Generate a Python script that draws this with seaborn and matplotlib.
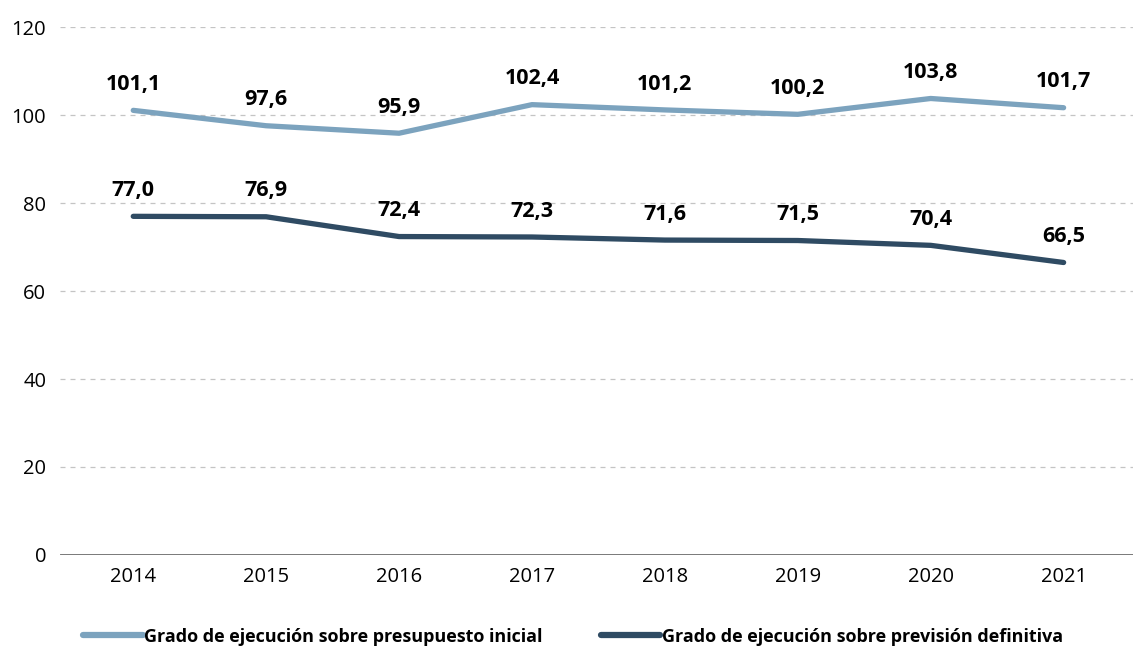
import matplotlib

matplotlib.use("Agg")
import matplotlib.pyplot as plt
import pandas as pd
import seaborn as sns

years = ["2014", "2015", "2016", "2017", "2018", "2019", "2020", "2021"]
inicial = [101.1, 97.6, 95.9, 102.4, 101.2, 100.2, 103.8, 101.7]
definitiva = [77.0, 76.9, 72.4, 72.3, 71.6, 71.5, 70.4, 66.5]
series_names = [
    "Grado de ejecución sobre presupuesto inicial",
    "Grado de ejecución sobre previsión definitiva",
]
colors = ["#7ca3be", "#2f4b63"]

df = pd.DataFrame(
    {
        "year": years * 2,
        "x": list(range(len(years))) * 2,
        "value": inicial + definitiva,
        "serie": [series_names[0]] * len(years) + [series_names[1]] * len(years),
    }
)

sns.set_style("white")
plt.rcParams["font.family"] = ["Open Sans", "DejaVu Sans"]

fig = plt.figure(figsize=(11.35, 6.49), dpi=100)
ax = fig.add_axes([0.053, 0.145, 0.945, 0.813])

sns.lineplot(
    data=df,
    x="x",
    y="value",
    hue="serie",
    palette=colors,
    linewidth=3.8,
    ax=ax,
    legend=False,
    solid_capstyle="round",
)

# data labels
for vals in (inicial, definitiva):
    for i, v in enumerate(vals):
        ax.annotate(
            f"{v:.1f}".replace(".", ","),
            (i, v),
            xytext=(0, 11),
            textcoords="offset points",
            ha="center",
            va="bottom",
            fontsize=15.5,
            fontweight="bold",
            color="black",
        )

ax.set_ylim(0, 120)
ax.set_xlim(-0.55, 7.52)
ax.set_yticks(range(0, 121, 20))
ax.set_xticks(range(len(years)))
ax.set_xticklabels(years)
ax.set_xlabel("")
ax.set_ylabel("")
ax.tick_params(axis="both", labelsize=14.5, length=0, colors="black")
ax.tick_params(axis="x", pad=9)
ax.tick_params(axis="y", pad=10)

for y in range(20, 121, 20):
    ax.axhline(y, color="#c4c4c4", linestyle=(0, (4, 4)), linewidth=0.9, zorder=0)
ax.axhline(0, color="#6d6d6d", linewidth=2, zorder=1)

for s in ax.spines.values():
    s.set_visible(False)

handles = [
    plt.Line2D([], [], color=c, linewidth=4.5, solid_capstyle="round")
    for c in colors
]
fig.legend(
    handles,
    series_names,
    loc="lower center",
    bbox_to_anchor=(0.505, -0.02),
    ncol=2,
    frameon=False,
    prop={"size": 13, "weight": "bold"},
    labelcolor="black",
    handlelength=3.3,
    handletextpad=0.1,
    columnspacing=3.2,
)

fig.savefig("out.png", dpi=100)
